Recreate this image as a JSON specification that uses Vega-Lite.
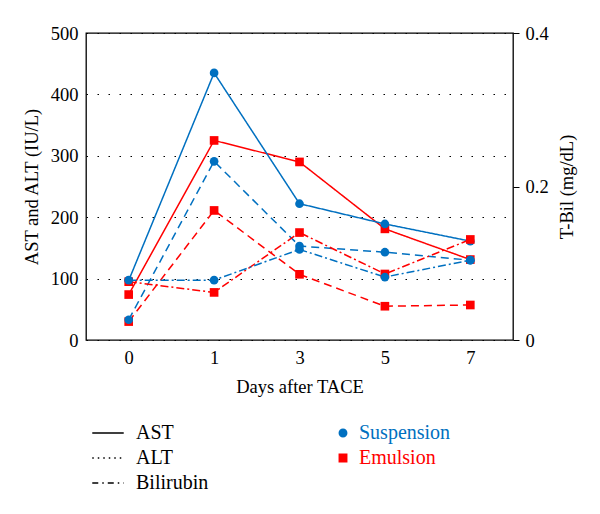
{
  "$schema": "https://vega.github.io/schema/vega-lite/v6.json",
  "width": 427,
  "height": 307,
  "padding": {"left": 22, "top": 24, "right": 5, "bottom": 5},
  "autosize": {"type": "pad"},
  "background": "white",
  "config": {
    "font": "Liberation Serif",
    "view": {"stroke": "black", "strokeWidth": 1.3},
    "axis": {
      "labelFont": "Liberation Serif",
      "titleFont": "Liberation Serif",
      "labelFontSize": 18.5,
      "titleFontSize": 18.5,
      "titleFontWeight": "normal",
      "labelColor": "black",
      "titleColor": "black",
      "domainColor": "black",
      "tickColor": "black"
    },
    "legend": {
      "labelFont": "Liberation Serif",
      "labelFontSize": 20,
      "labelColor": "black"
    }
  },
  "datasets": {
    "enz": [
      {"day": 0, "measure": "AST", "group": "Emulsion", "value": 74},
      {"day": 1, "measure": "AST", "group": "Emulsion", "value": 325},
      {"day": 3, "measure": "AST", "group": "Emulsion", "value": 290},
      {"day": 5, "measure": "AST", "group": "Emulsion", "value": 181},
      {"day": 7, "measure": "AST", "group": "Emulsion", "value": 131},
      {"day": 0, "measure": "ALT", "group": "Emulsion", "value": 30},
      {"day": 1, "measure": "ALT", "group": "Emulsion", "value": 211},
      {"day": 3, "measure": "ALT", "group": "Emulsion", "value": 107},
      {"day": 5, "measure": "ALT", "group": "Emulsion", "value": 55},
      {"day": 7, "measure": "ALT", "group": "Emulsion", "value": 57},
      {"day": 0, "measure": "AST", "group": "Suspension", "value": 97},
      {"day": 1, "measure": "AST", "group": "Suspension", "value": 435},
      {"day": 3, "measure": "AST", "group": "Suspension", "value": 222},
      {"day": 5, "measure": "AST", "group": "Suspension", "value": 189},
      {"day": 7, "measure": "AST", "group": "Suspension", "value": 161},
      {"day": 0, "measure": "ALT", "group": "Suspension", "value": 33},
      {"day": 1, "measure": "ALT", "group": "Suspension", "value": 291},
      {"day": 3, "measure": "ALT", "group": "Suspension", "value": 153},
      {"day": 5, "measure": "ALT", "group": "Suspension", "value": 143},
      {"day": 7, "measure": "ALT", "group": "Suspension", "value": 130}
    ],
    "bil": [
      {"day": 0, "measure": "Bilirubin", "group": "Emulsion", "bil": 0.076},
      {"day": 1, "measure": "Bilirubin", "group": "Emulsion", "bil": 0.062},
      {"day": 3, "measure": "Bilirubin", "group": "Emulsion", "bil": 0.14},
      {"day": 5, "measure": "Bilirubin", "group": "Emulsion", "bil": 0.086},
      {"day": 7, "measure": "Bilirubin", "group": "Emulsion", "bil": 0.131},
      {"day": 0, "measure": "Bilirubin", "group": "Suspension", "bil": 0.078},
      {"day": 1, "measure": "Bilirubin", "group": "Suspension", "bil": 0.078},
      {"day": 3, "measure": "Bilirubin", "group": "Suspension", "bil": 0.118},
      {"day": 5, "measure": "Bilirubin", "group": "Suspension", "bil": 0.082},
      {"day": 7, "measure": "Bilirubin", "group": "Suspension", "bil": 0.104}
    ]
  },
  "encoding": {
    "x": {
      "field": "day",
      "type": "ordinal",
      "scale": {"type": "point", "padding": 0.5},
      "axis": {"title": "Days after TACE", "labelAngle": 0, "domain": false, "ticks": false, "grid": false, "labelPadding": 8, "titlePadding": 11}
    },
    "color": {
      "field": "group",
      "type": "nominal",
      "scale": {"domain": ["Suspension", "Emulsion"], "range": ["#0070c0", "#ff0000"]},
      "legend": {
        "title": null,
        "orient": "none",
        "legendX": 247,
        "legendY": 390,
        "symbolSize": 55,
        "labelOffset": 6,
        "rowPadding": 5,
        "encode": {"labels": {"update": {"fill": {"signal": "datum.label === 'Suspension' ? '#0070c0' : '#ff0000'"}}}}
      }
    }
  },
  "layer": [
    {
      "data": {"name": "enz"},
      "mark": {"type": "line", "strokeWidth": 1.5},
      "encoding": {
        "y": {
          "field": "value",
          "type": "quantitative",
          "scale": {"domain": [0, 500]},
          "axis": {"title": "AST and ALT (IU/L)", "values": [0, 100, 200, 300, 400, 500], "grid": true, "gridDash": [1.5, 9.5], "gridColor": "black", "gridWidth": 1.2, "domain": false, "ticks": false, "labelPadding": 8, "titlePadding": 9}
        },
        "strokeDash": {
          "field": "measure",
          "type": "nominal",
          "scale": {"domain": ["AST", "ALT"], "range": [[1, 0], [8, 5]]},
          "legend": null
        }
      }
    },
    {
      "data": {"name": "bil"},
      "mark": {"type": "line", "strokeWidth": 1.5},
      "encoding": {
        "y": {
          "field": "bil",
          "type": "quantitative",
          "scale": {"domain": [0, 0.4]},
          "axis": {"orient": "right", "title": "T-Bil (mg/dL)", "titleAngle": -90, "values": [0, 0.2, 0.4], "format": "~g", "grid": false, "domain": false, "ticks": true, "tickSize": 6, "labelPadding": 6, "titlePadding": 28}
        },
        "strokeDash": {
          "field": "measure",
          "type": "nominal",
          "scale": {"domain": ["Bilirubin"], "range": [[8, 3, 2, 3]]},
          "legend": null
        }
      }
    },
    {
      "data": {"name": "enz"},
      "mark": {"type": "point", "filled": true, "opacity": 1, "size": 75},
      "encoding": {
        "y": {"field": "value", "type": "quantitative", "scale": {"domain": [0, 500]}, "axis": null},
        "shape": {"field": "group", "type": "nominal", "scale": {"domain": ["Suspension", "Emulsion"], "range": ["circle", "square"]}}
      }
    },
    {
      "data": {"name": "bil"},
      "mark": {"type": "point", "filled": true, "opacity": 1, "size": 75},
      "encoding": {
        "y": {"field": "bil", "type": "quantitative", "scale": {"domain": [0, 0.4]}, "axis": null},
        "shape": {"field": "group", "type": "nominal"}
      }
    },
    {
      "data": {"name": "enz"},
      "transform": [{"filter": "datum.day < 0"}],
      "mark": {"type": "line", "color": "black", "strokeWidth": 1.3},
      "encoding": {
        "color": {"value": "black"},
        "y": {"field": "value", "type": "quantitative", "scale": {"domain": [0, 500]}, "axis": null},
        "strokeDash": {
          "field": "measure",
          "type": "nominal",
          "scale": {"domain": ["AST", "ALT", "Bilirubin"], "range": [[1, 0], [1.5, 4], [6, 4, 1.5, 4]]},
          "legend": {
            "title": null,
            "orient": "none",
            "legendX": 12,
            "legendY": 390,
            "symbolType": "M-3,0H3",
            "symbolSize": 110,
            "symbolStrokeColor": "black",
            "symbolStrokeWidth": 1.3,
            "labelOffset": 18,
            "rowPadding": 5
          }
        }
      }
    }
  ],
  "resolve": {"scale": {"y": "independent", "strokeDash": "independent"}}
}
